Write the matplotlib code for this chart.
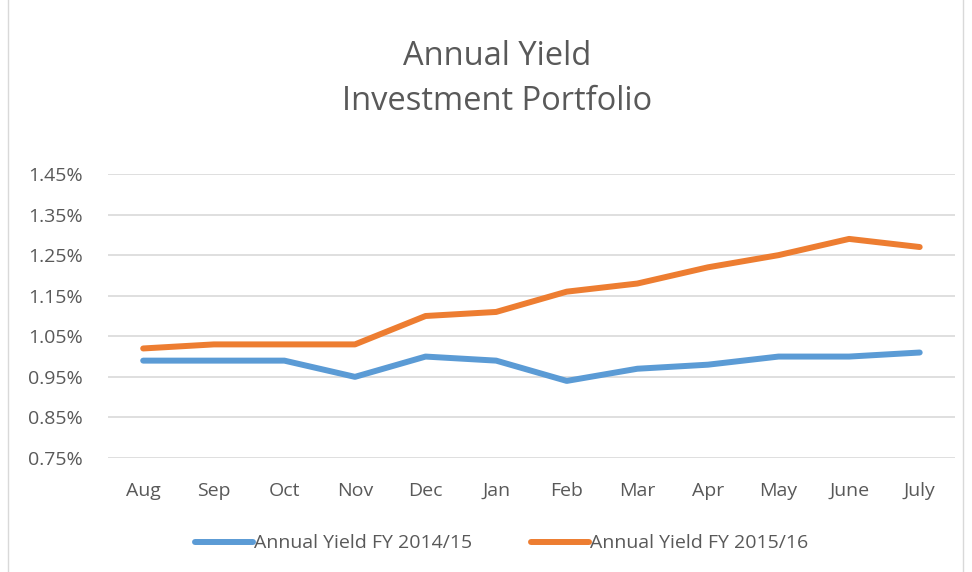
import matplotlib
matplotlib.use("Agg")
import matplotlib.pyplot as plt
from matplotlib.patches import Rectangle

months = ["Aug", "Sep", "Oct", "Nov", "Dec", "Jan", "Feb", "Mar", "Apr", "May", "June", "July"]
yield_1415 = [0.99, 0.99, 0.99, 0.95, 1.00, 0.99, 0.94, 0.97, 0.98, 1.00, 1.00, 1.01]
yield_1516 = [1.02, 1.03, 1.03, 1.03, 1.10, 1.11, 1.16, 1.18, 1.22, 1.25, 1.29, 1.27]
yticks = [0.75, 0.85, 0.95, 1.05, 1.15, 1.25, 1.35, 1.45]

plt.rcParams["font.family"] = ["Open Sans", "DejaVu Sans"]
TEXT = "#595959"

fig = plt.figure(figsize=(9.72, 5.72), dpi=100)
ax = fig.add_axes([0.111, 0.1993, 0.8715, 0.4965])

x = range(len(months))
ax.plot(x, yield_1415, color="#5B9BD5", linewidth=4.3, solid_capstyle="round",
        solid_joinstyle="round", label="Annual Yield FY 2014/15")
ax.plot(x, yield_1516, color="#ED7D31", linewidth=4.3, solid_capstyle="round",
        solid_joinstyle="round", label="Annual Yield FY 2015/16")

ax.set_xlim(-0.5, len(months) - 0.5)
ax.set_ylim(0.75, 1.45)
ax.set_yticks(yticks, [f"{v:.2f}%" for v in yticks])
ax.set_xticks(list(x), months)
ax.grid(axis="y", color="#D9D9D9", linewidth=1.2)
ax.set_axisbelow(True)
for spine in ax.spines.values():
    spine.set_visible(False)
ax.tick_params(axis="both", length=0, labelsize=14, labelcolor=TEXT)
ax.tick_params(axis="x", pad=17)
ax.tick_params(axis="y", pad=18)

fig.text(0.511, 0.902, "Annual Yield", ha="center", va="center", fontsize=23.5, color=TEXT)
fig.text(0.511, 0.823, "Investment Portfolio", ha="center", va="center", fontsize=23.5, color=TEXT)

fig.legend(loc="center", bbox_to_anchor=(0.516, 0.05), ncol=2, frameon=False,
           fontsize=14, labelcolor=TEXT, handlelength=3.0, handletextpad=0.05,
           columnspacing=3.0)

fig.patches.append(Rectangle((0.008, -0.01), 0.983, 1.02, transform=fig.transFigure,
                             fill=False, edgecolor="#D9D9D9", linewidth=1))

fig.savefig("out.png", dpi=100)
